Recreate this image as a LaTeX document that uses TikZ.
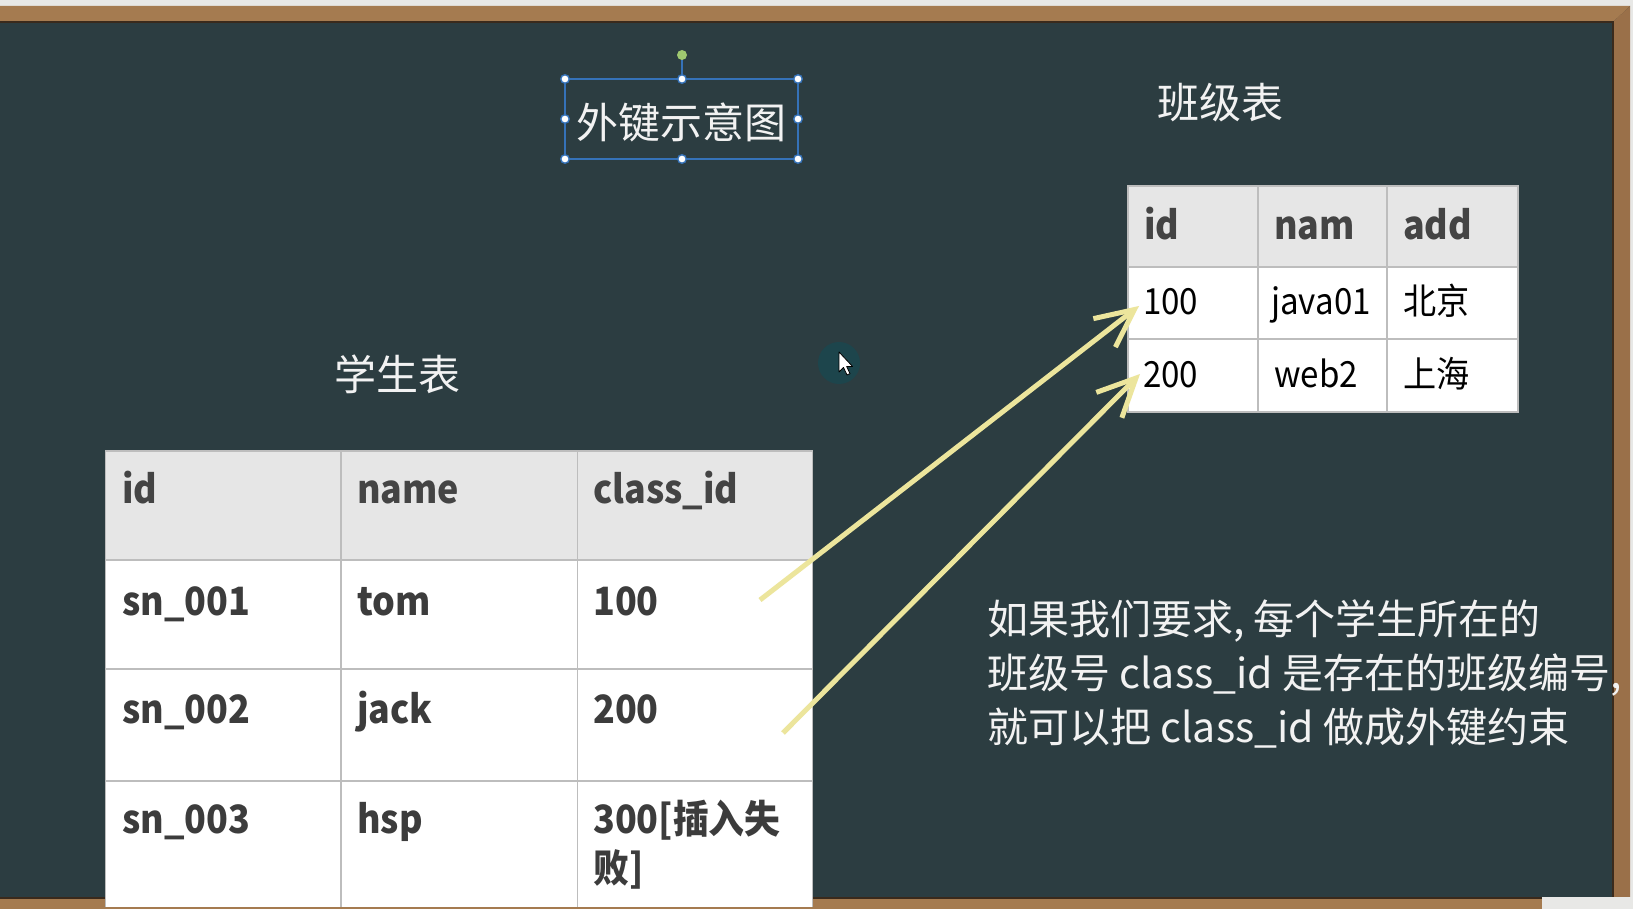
\documentclass[tikz,border=0pt]{standalone}
\usepackage{fontspec}
\newfontfamily\cjk{Noto Sans CJK SC}
\newfontfamily\cjkn[FakeStretch=0.92]{Noto Sans CJK SC}
\usetikzlibrary{arrows.meta}
\definecolor{board}{HTML}{2C3D41}
\definecolor{frameLight}{HTML}{E8E8E6}
\definecolor{woodTop}{HTML}{A57B50}
\definecolor{woodSide}{HTML}{9A7049}
\definecolor{woodDark}{HTML}{3A2A1C}
\definecolor{hdrfill}{HTML}{E6E6E6}
\definecolor{gridc}{HTML}{BDBDBD}
\definecolor{hdrtext}{HTML}{444444}
\definecolor{celltext}{HTML}{3C3C3C}
\definecolor{chalk}{HTML}{F2F2F2}
\definecolor{fkyellow}{HTML}{ECE59C}
\definecolor{selblue}{HTML}{3572B8}
\definecolor{rotgreen}{HTML}{9FC870}
\definecolor{cursorbg}{HTML}{1D454C}
\tikzset{
  hdr/.style={anchor=base west, inner sep=0pt, text=hdrtext, font=\cjkn\bfseries\fontsize{39}{47}\selectfont},
  scell/.style={anchor=base west, inner sep=0pt, text=celltext, font=\cjkn\bfseries\fontsize{39}{47}\selectfont},
  ccell/.style={anchor=base west, inner sep=0pt, text=black, font=\cjkn\fontsize{36}{43}\selectfont},
  chalktitle/.style={inner sep=0pt, text=chalk, font=\cjk\fontsize{42}{50}\selectfont},
  note/.style={anchor=base west, inner sep=0pt, text=chalk, font=\cjk\fontsize{41}{54}\selectfont},
  gridline/.style={draw=gridc, line width=1.3pt},
  fkarrow/.style={draw=fkyellow, line width=5pt, -{Straight Barb[length=38pt,width=36pt]}},
  handle/.style={circle, fill=white, draw=selblue, line width=1.4pt, inner sep=0pt, minimum size=8.5pt},
}
\begin{document}
\begin{tikzpicture}[x=1pt,y=-1pt]
\useasboundingbox (0,0) rectangle (1633,909);
% board
\fill[board] (0,0) rectangle (1633,909);
% frame
\fill[frameLight] (0,0) rectangle (1633,6);
\fill[frameLight] (1630,0) rectangle (1633,909);
\fill[woodTop] (0,6) -- (1630,6) -- (1613,22) -- (0,22) -- cycle;
\fill[woodSide] (1630,6) -- (1630,909) -- (1613,909) -- (1613,22) -- cycle;
\fill[woodTop] (0,898) rectangle (1613,909);
\draw[woodDark, line width=1.5pt] (0,22) -- (1613,22) -- (1613,898) -- (0,898);
\fill[frameLight] (1542,897) rectangle (1633,909);

% title with selection frame
\draw[selblue, line width=1.6pt] (682,79) -- (682,55);
\draw[selblue, line width=1.8pt] (565,79) rectangle (798,159);
\node[chalktitle] (title) at (681,122) {外键示意图};
\foreach \hx/\hy [count=\k] in {565/79,682/79,798/79,565/119,798/119,565/159,682/159,798/159}
  \node[handle] (h\k) at (\hx,\hy) {};
\node[circle, fill=rotgreen, inner sep=0pt, minimum size=10pt] (rot) at (682,55) {};

% table titles
\node[chalktitle] (ctitle) at (1220,103) {班级表};
\node[chalktitle] (stitle) at (397,374) {学生表};

% class table
\fill[hdrfill] (1128,186) rectangle (1518,267);
\fill[white] (1128,267) rectangle (1518,412);
\draw[gridline] (1128,186) rectangle (1518,412);
\draw[gridline] (1128,267) -- (1518,267) (1128,339) -- (1518,339)
  (1258,186) -- (1258,412) (1387,186) -- (1387,412);
\node[hdr] (ch1) at (1144,240) {id};
\node[hdr] (ch2) at (1274,240) {nam};
\node[hdr] (ch3) at (1403,240) {add};
\node[ccell] (c11) at (1143,315) {100};
\node[ccell] (c12) at (1271,315) {java01};
\node[ccell] (c13) at (1403,315) {北京};
\node[ccell] (c21) at (1143,387) {200};
\node[ccell] (c22) at (1274,387) {web2};
\node[ccell] (c23) at (1403,387) {上海};

% student table
\fill[hdrfill] (105.5,451) rectangle (812.5,560);
\fill[white] (105.5,560) rectangle (812.5,907);
\draw[gridline] (105.5,907) -- (105.5,451) -- (812.5,451) -- (812.5,907);
\draw[gridline] (105.5,560) -- (812.5,560) (105.5,669) -- (812.5,669) (105.5,781) -- (812.5,781)
  (341,451) -- (341,907) (577.5,451) -- (577.5,907);
\node[hdr] (sh1) at (122,503) {id};
\node[hdr] (sh2) at (357,503) {name};
\node[hdr] (sh3) at (593,503) {class\_id};
\node[scell] (s11) at (122,615) {sn\_001};
\node[scell] (s12) at (357,615) {tom};
\node[scell] (s13) at (593,615) {100};
\node[scell] (s21) at (122,723) {sn\_002};
\node[scell] (s22) at (357,723) {jack};
\node[scell] (s23) at (593,723) {200};
\node[scell] (s31) at (122,833) {sn\_003};
\node[scell] (s32) at (357,833) {hsp};
\node[scell] (s33) at (593,833) {300[插入失};
\node[scell] (s33b) at (593,882) {败]};

% foreign key arrows
\coordinate (a1s) at (760,600);
\coordinate (a1e) at (1139,306);
\coordinate (a2s) at (783,733);
\coordinate (a2e) at (1140,374);
\draw[fkarrow] (a1s) -- (a1e);
\draw[fkarrow] (a2s) -- (a2e);

% explanation
\node[note] (n1) at (987,634) {如果我们要求, 每个学生所在的};
\node[note] (n2) at (987,688) {班级号 class\_id 是存在的班级编号,};
\node[note] (n3) at (987,742) {就可以把 class\_id 做成外键约束};

% mouse cursor
\node[circle, fill=cursorbg, inner sep=0pt, minimum size=42pt] (cur) at (839,363) {};
\draw[black, fill=white, line width=0.8pt, line join=round]
  (839,352) -- (839,372) -- (843.5,367.5) -- (847,375) -- (850,373.6) -- (846.6,366.4) -- (852.5,366.4) -- cycle;
\end{tikzpicture}
\end{document}
